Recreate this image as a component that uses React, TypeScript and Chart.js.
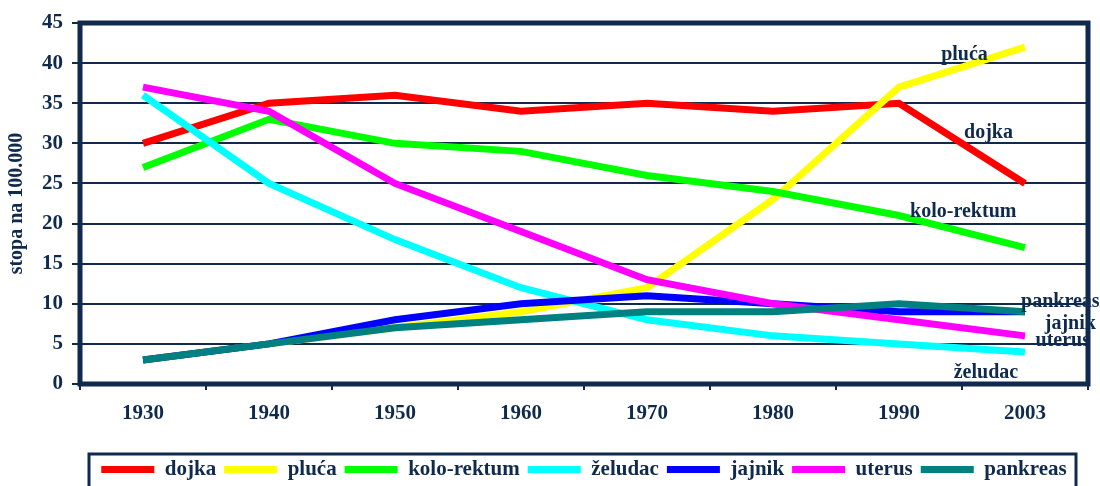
import React, { useEffect, useRef } from 'react';
import { Chart, registerables } from 'chart.js';

Chart.register(...registerables);

const NAVY = '#0f2a4d';
const FONT = '"Liberation Serif", "Times New Roman", serif';

const years = ['1930', '1940', '1950', '1960', '1970', '1980', '1990', '2003'];
const yTicks = [0, 5, 10, 15, 20, 25, 30, 35, 40, 45];

const dojka = [30, 35, 36, 34, 35, 34, 35, 25];
const pluca = [3, 5, 7, 9, 12, 23, 37, 42];
const koloRektum = [27, 33, 30, 29, 26, 24, 21, 17];
const zeludac = [36, 25, 18, 12, 8, 6, 5, 4];
const jajnik = [3, 5, 8, 10, 11, 10, 9, 9];
const uterus = [37, 34, 25, 19, 13, 10, 8, 6];
const pankreas = [3, 5, 7, 8, 9, 9, 10, 9];

const seriesNames = ['dojka', 'pluća', 'kolo-rektum', 'želudac', 'jajnik', 'uterus', 'pankreas'];
const seriesColors = ['#ff0000', '#ffff00', '#00ff00', '#00ffff', '#0000ff', '#ff00ff', '#008080'];
const seriesValues = [dojka, pluca, koloRektum, zeludac, jajnik, uterus, pankreas];

// in-chart labels: text, category position (index), value position
const noteTexts = ['pluća', 'dojka', 'kolo-rektum', 'pankreas', 'jajnik', 'uterus', 'želudac'];
const noteX = [6.52, 6.71, 6.51, 7.28, 7.36, 7.3, 6.69];
const noteY = [41, 31.25, 21.4, 10.25, 7.5, 5.4, 1.4];

export default function App() {
  const ref = useRef<HTMLCanvasElement>(null);

  useEffect(() => {
    const canvas = ref.current;
    if (!canvas) return;

    const framePlugin = {
      id: 'frame',
      afterDatasetsDraw(chart: any) {
        const { ctx, scales } = chart;
        ctx.save();
        ctx.fillStyle = NAVY;
        ctx.font = `bold 20px ${FONT}`;
        ctx.textAlign = 'center';
        ctx.textBaseline = 'middle';
        noteTexts.forEach((t, i) => {
          ctx.fillText(t, scales.x.getPixelForValue(noteX[i]), scales.y.getPixelForValue(noteY[i]));
        });
        ctx.restore();
      },
      afterDraw(chart: any) {
        const { ctx, chartArea, legend } = chart;
        ctx.save();
        ctx.strokeStyle = NAVY;
        ctx.lineWidth = 5;
        ctx.strokeRect(chartArea.left, chartArea.top, chartArea.right - chartArea.left, chartArea.bottom - chartArea.top);
        if (legend && legend.legendHitBoxes && legend.legendHitBoxes.length) {
          const hb = legend.legendHitBoxes[0];
          const top = hb.top - 5;
          ctx.lineWidth = 3;
          ctx.strokeRect(chartArea.left + 9, top, chartArea.right - chartArea.left - 21, chart.height - top + 20);
        }
        ctx.restore();
      },
    };

    const chart = new Chart(canvas, {
      type: 'line',
      data: {
        labels: years,
        datasets: seriesNames.map((name, i) => ({
          label: name,
          data: seriesValues[i],
          borderColor: seriesColors[i],
          backgroundColor: seriesColors[i],
          borderWidth: 7,
          pointRadius: 0,
          tension: 0,
          fill: false,
          order: seriesNames.length - 1 - i,
        })),
      },
      options: {
        responsive: false,
        animation: false,
        layout: { padding: { top: 23, right: 12, left: 0, bottom: 0 } },
        plugins: {
          tooltip: { enabled: false },
          legend: {
            position: 'bottom',
            fullSize: false,
            labels: {
              boxWidth: 53,
              boxHeight: 7,
              padding: 8,
              color: NAVY,
              font: { family: FONT, size: 21, weight: 'bold' },
              sort: (a: any, b: any) => a.datasetIndex - b.datasetIndex,
              generateLabels: (chart: any) =>
                Chart.defaults.plugins.legend.labels.generateLabels(chart).map((l: any) => ({
                  ...l,
                  lineWidth: 0,
                  fillStyle: seriesColors[l.datasetIndex],
                  strokeStyle: seriesColors[l.datasetIndex],
                })),
            },
          },
        },
        scales: {
          x: {
            type: 'category',
            offset: true,
            border: { display: false },
            grid: {
              display: true,
              drawOnChartArea: false,
              drawTicks: true,
              tickLength: 6,
              lineWidth: 2,
              color: NAVY,
              offset: true,
            },
            ticks: {
              color: NAVY,
              font: { family: FONT, size: 21, weight: 'bold' },
              padding: 11,
              maxRotation: 0,
              autoSkip: false,
            },
            afterFit: (scale: any) => {
              scale.height = 67;
            },
          },
          y: {
            min: 0,
            max: 45,
            border: { display: false },
            afterBuildTicks: (scale: any) => {
              scale.ticks = yTicks.map((v) => ({ value: v }));
            },
            grid: {
              color: NAVY,
              lineWidth: 2,
              drawTicks: true,
              tickLength: 8,
            },
            ticks: {
              color: NAVY,
              font: { family: FONT, size: 21, weight: 'bold' },
              padding: 9,
            },
            title: {
              display: true,
              text: 'stopa na 100.000',
              color: NAVY,
              font: { family: FONT, size: 20, weight: 'bold' },
              padding: { top: 5, bottom: 0 },
            },
            afterFit: (scale: any) => {
              scale.width = 80;
            },
          },
        },
      },
      plugins: [framePlugin],
    } as any);

    return () => chart.destroy();
  }, []);

  return (
    <div
      style={{
        position: 'absolute',
        left: 0,
        top: 0,
        width: 1100,
        height: 486,
        overflow: 'hidden',
        background: '#ffffff',
      }}
    >
      <canvas ref={ref} width={1100} height={490} style={{ display: 'block' }} />
    </div>
  );
}
